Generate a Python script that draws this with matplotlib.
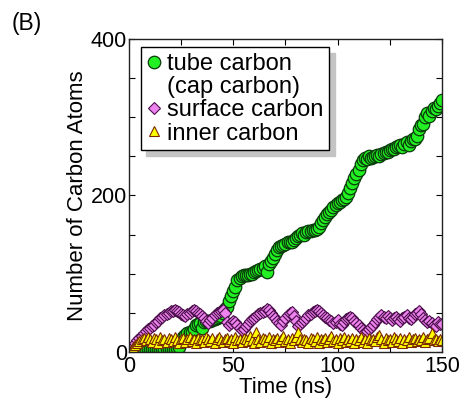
import numpy as np
import matplotlib.pyplot as plt
from matplotlib.lines import Line2D
from matplotlib.ticker import MultipleLocator

plt.rcParams['font.family'] = ['Liberation Sans', 'DejaVu Sans']

# time axis, one sample per ns
time_ns = np.arange(0, 151)

tube_carbon = [
    0, 1, 2, 2, 3, 3, 3, 3, 3, 4, 4, 4, 4, 4, 4, 4, 4, 4, 4, 4,
    4, 4, 4, 5, 6, 14, 19, 22, 24, 25, 26, 30, 35, 36, 37, 31, 38, 39, 40, 40,
    41, 42, 43, 45, 46, 50, 55, 58, 65, 72, 78, 83, 92, 95, 97, 98, 98, 99, 100, 100,
    102, 104, 105, 106, 107, 110, 102, 113, 116, 120, 125, 130, 134, 136, 137, 138, 140, 140, 141, 143,
    146, 148, 150, 152, 150, 153, 154, 155, 156, 156, 157, 160, 165, 169, 172, 176, 179, 182, 185, 188,
    190, 192, 194, 196, 198, 203, 210, 216, 222, 228, 233, 240, 245, 248, 247, 250, 248, 249, 251, 252,
    250, 253, 254, 256, 255, 258, 260, 259, 262, 263, 264, 262, 266, 268, 265, 270, 272, 272, 276, 285,
    290, 292, 300, 305, 302, 308, 312, 310, 315, 318, 322,
]

surface_carbon = [
    0, 3, 7, 11, 15, 18, 21, 24, 27, 29, 31, 33, 35, 38, 40, 43, 45, 47, 49, 50,
    52, 53, 54, 53, 51, 49, 47, 46, 48, 50, 52, 54, 53, 50, 48, 46, 44, 40, 37, 41,
    44, 47, 50, 51, 53, 54, 50, 38, 34, 37, 40, 38, 34, 31, 28, 30, 33, 36, 39, 42,
    44, 46, 48, 50, 51, 53, 55, 54, 50, 46, 43, 40, 37, 35, 40, 44, 47, 50, 51, 46,
    40, 33, 36, 38, 41, 44, 47, 49, 51, 53, 54, 52, 50, 47, 45, 43, 41, 39, 37, 38,
    41, 36, 34, 38, 42, 44, 45, 43, 40, 37, 34, 31, 28, 25, 27, 30, 32, 35, 38, 42,
    45, 47, 45, 43, 46, 44, 41, 43, 45, 42, 40, 43, 45, 47, 44, 42, 45, 48, 50, 52,
    48, 44, 41, 38, 40, 37, 35, 33, 38, 36, 36,
]

inner_carbon = [
    0, 3, 6, 9, 12, 14, 16, 18, 15, 19, 17, 13, 18, 16, 12, 19, 15, 17, 13, 18,
    16, 14, 19, 15, 12, 17, 18, 13, 16, 19, 14, 17, 12, 18, 15, 16, 13, 19, 17, 14,
    18, 12, 16, 19, 15, 13, 17, 18, 14, 16, 12, 19, 15, 17, 13, 18, 16, 14, 20, 15,
    12, 26, 17, 13, 18, 16, 14, 19, 11, 17, 15, 18, 13, 16, 20, 14, 17, 12, 18, 15,
    19, 26, 16, 13, 17, 15, 11, 18, 16, 14, 19, 12, 17, 15, 18, 13, 16, 20, 14, 17,
    12, 18, 15, 19, 13, 16, 14, 18, 11, 17, 15, 19, 13, 16, 12, 18, 15, 17, 14, 19,
    22, 16, 11, 18, 15, 17, 13, 19, 16, 14, 18, 12, 17, 15, 19, 13, 16, 18, 14, 17,
    15, 19, 13, 16, 18, 24, 15, 17, 14, 16, 15,
]

fig = plt.figure(figsize=(4.65, 4.04), dpi=100)
ax = fig.add_axes([0.2774, 0.1287, 0.6731, 0.7748])

l_tube, = ax.plot(time_ns, tube_carbon, linestyle='none', marker='o', ms=9,
                  mfc='#22f022', mec='#0a3a0a', mew=0.9)
l_surf, = ax.plot(time_ns, surface_carbon, linestyle='none', marker='D', ms=6.2,
                  mfc='#ee82ee', mec='#4a104a', mew=0.8)
l_inner, = ax.plot(time_ns, inner_carbon, linestyle='none', marker='^', ms=7.5,
                   mfc='#ffff00', mec='#7a2a00', mew=0.8)

ax.set_xlim(0, 150)
ax.set_ylim(0, 400)
ax.xaxis.set_major_locator(MultipleLocator(50))
ax.xaxis.set_minor_locator(MultipleLocator(25))
ax.yaxis.set_major_locator(MultipleLocator(200))
ax.yaxis.set_minor_locator(MultipleLocator(50))
ax.tick_params(which='both', direction='in', top=True, right=True,
               length=4, width=0.8, labelsize=15.5)
ax.tick_params(axis='x', pad=3)
ax.tick_params(axis='y', pad=1.5)
for s in ax.spines.values():
    s.set_linewidth(1.0)
    s.set_color('#222222')

ax.set_xlabel('Time (ns)', fontsize=16, labelpad=0)
ax.set_ylabel('Number of Carbon Atoms', fontsize=16, labelpad=2)

# second legend row carries the wrapped part of the first label
blank = Line2D([], [], linestyle='none', marker='none')
leg = ax.legend([l_tube, blank, l_surf, l_inner],
                ['tube carbon', '(cap carbon)', 'surface carbon', 'inner carbon'],
                loc='upper left', bbox_to_anchor=(0.038, 0.974), borderaxespad=0,
                fontsize=17, frameon=True, fancybox=False,
                shadow={'color': '#c4c4c4', 'alpha': 1, 'ox': 4, 'oy': -4},
                handlelength=0.6, handletextpad=0.25, borderpad=0.25,
                labelspacing=0.05, framealpha=1)
leg.get_frame().set_edgecolor('black')
leg.get_frame().set_linewidth(1.0)

fig.text(0.026, 0.97, '(B)', fontsize=16.5, ha='left', va='top')

fig.savefig('out.png', dpi=100)
